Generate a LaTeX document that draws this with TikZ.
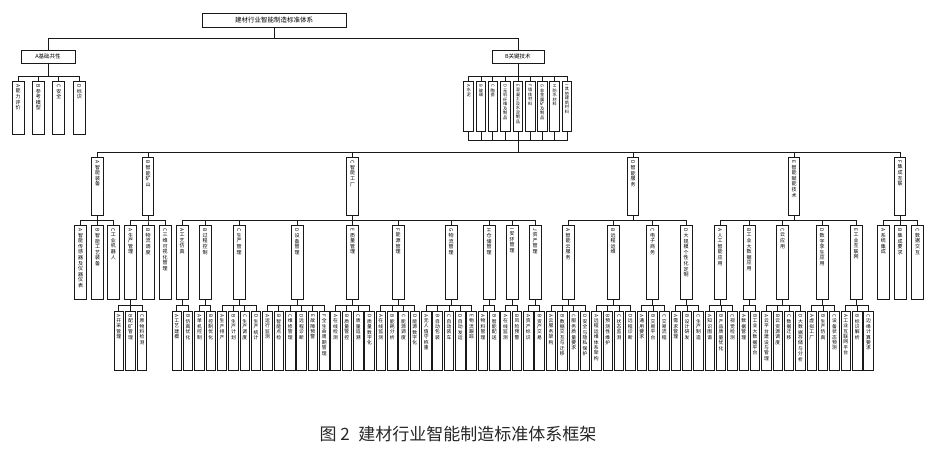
\documentclass[tikz,border=0pt]{standalone}
\usepackage{fontspec}
\setmainfont{Noto Sans CJK SC}
\usepackage{graphicx}
\XeTeXlinebreaklocale "zh"
\XeTeXlinebreakskip=0pt plus 1pt
% vertical label: rotated letter, then the characters one under the other
\newcommand{\vt}[2]{\rotatebox{-90}{#1}\par #2}

\begin{document}
\begin{tikzpicture}[x=1pt,y=-1pt,line width=0.8pt,draw=black!90,
  hbox/.style={draw,inner sep=0pt},
  vbox/.style={draw,anchor=north,inner sep=0pt,align=center,text height=3.5pt},
  bas/.style={vbox,minimum width=12,text width=6pt,text depth=50.1pt,font=\fontsize{5}{5.6}\selectfont},
  mat/.style={vbox,minimum width=9.7,text width=5pt,text depth=46.2pt,font=\fontsize{4.2}{4.5}\selectfont},
  lvb/.style={vbox,minimum width=11.6,text width=6pt,text depth=54.5pt,font=\fontsize{5}{5.6}\selectfont},
  lvc/.style={vbox,minimum width=12,text width=6pt,text depth=70.8pt,font=\fontsize{5}{5.6}\selectfont},
  leaf/.style={vbox,minimum width=9.5,text width=6pt,text depth=55.5pt,font=\fontsize{4.8}{5.4}\selectfont}]
\useasboundingbox (0,0) rectangle (936,453);

\node[hbox,minimum width=144,minimum height=14,font=\fontsize{6.5}{7}\selectfont] (root) at (274,20) {建材行业智能制造标准体系};
\node[hbox,minimum width=54,minimum height=13,font=\fontsize{5.5}{6}\selectfont] (jc) at (48,56.5) {A基础共性};
\node[hbox,minimum width=52,minimum height=13,font=\fontsize{5.5}{6}\selectfont] (gj) at (517.9,56.5) {B关键技术};

% A
\node[bas] (jca) at (18.2,80.7) {\vt{A}{能力评价}};
\node[bas] (jcb) at (38.3,80.7) {\vt{B}{参考模型}};
\node[bas] (jcc) at (58.8,80.7) {\vt{C}{安全}};
\node[bas] (jcd) at (79.3,80.7) {\vt{D}{标识}};

% B: materials
\node[mat] (cla) at (468.7,81) {\vt{A}{水泥}};
\node[mat] (clb) at (480.9,81) {\vt{B}{玻璃}};
\node[mat] (clc) at (492.8,81) {\vt{C}{陶瓷}};
\node[mat] (cld) at (505.2,81) {\vt{D}{无机纤维及制品}};
\node[mat] (cle) at (517.9,81) {\vt{E}{混凝土及水泥制品}};
\node[mat] (clf) at (530.2,81) {\vt{F}{墙体材料}};
\node[mat] (clg) at (542.2,81) {\vt{G}{非金属矿及制品}};
\node[mat] (clh) at (554.7,81) {\vt{H}{防水材料}};
\node[mat] (cli) at (567,81) {\vt{I}{其他建筑材料}};
\coordinate (hub) at (517.9,140);

% B: level 2
\node[lvb] (zb) at (97.5,157) {\vt{A}{智能装备}};
\node[lvb] (ks) at (148,157) {\vt{B}{智能矿山}};
\node[lvb] (gc) at (352.5,157) {\vt{C}{智能工厂}};
\node[lvb] (fw) at (633,157) {\vt{D}{智能服务}};
\node[lvb] (fn) at (794,157) {\vt{E}{智能赋能技术}};
\node[lvb] (jl) at (900,157) {\vt{F}{集成互联}};

% level 3
\node[lvc] (zba) at (80.5,225) {\vt{A}{智能传感器及仪器仪表}};
\node[lvc] (zbb) at (97.5,225) {\vt{B}{智能工艺装备}};
\node[lvc] (zbc) at (113.3,225) {\vt{C}{工业机器人}};
\node[lvc] (ksa) at (130.5,225) {\vt{A}{生产管理}};
\node[lvc] (ksb) at (148,225) {\vt{B}{物流调度}};
\node[lvc] (ksc) at (165,225) {\vt{C}{三维可视化管理}};
\node[lvc] (gca) at (182,225) {\vt{A}{工艺仿真}};
\node[lvc] (gcb) at (205,225) {\vt{B}{过程控制}};
\node[lvc] (gcc) at (239,225) {\vt{C}{生产管理}};
\node[lvc] (gcd) at (297,225) {\vt{D}{设备管理}};
\node[lvc] (gce) at (352.5,225) {\vt{E}{质量管理}};
\node[lvc] (gcf) at (398,225) {\vt{F}{能源管理}};
\node[lvc] (gcg) at (451,225) {\vt{G}{物流管理}};
\node[lvc] (gch) at (489,225) {\vt{H}{仓储管理}};
\node[lvc] (gci) at (512,225) {\vt{I}{安环管理}};
\node[lvc] (gcj) at (535,225) {\vt{J}{资产管理}};
\node[lvc] (fwa) at (568,225) {\vt{A}{智能云服务}};
\node[lvc] (fwb) at (613,225) {\vt{B}{远程运维}};
\node[lvc] (fwc) at (652.5,225) {\vt{C}{电子商务}};
\node[lvc] (fwd) at (686,225) {\vt{D}{大规模个性化定制}};
\node[lvc] (fna) at (720,225) {\vt{A}{人工智能应用}};
\node[lvc] (fnb) at (749,225) {\vt{B}{工业大数据应用}};
\node[lvc] (fnc) at (782.5,225) {\vt{C}{云应用}};
\node[lvc] (fnd) at (822,225) {\vt{D}{数字孪生应用}};
\node[lvc] (fne) at (856,225) {\vt{E}{工业互联网}};
\node[lvc] (jla) at (883.3,225) {\vt{A}{系统集成}};
\node[lvc] (jlb) at (900,225) {\vt{B}{集成要求}};
\node[lvc] (jlc) at (917.5,225) {\vt{C}{数据交互}};

% leaves
\node[leaf] (ksa1) at (118.75,311) {\vt{A}{开采管理}};
\node[leaf] (ksa2) at (130.45,311) {\vt{B}{配矿管理}};
\node[leaf] (ksa3) at (142.05,311) {\vt{C}{原物料检测}};
\node[leaf] (gca1) at (176.75,311) {\vt{A}{工艺建模}};
\node[leaf] (gca2) at (188.09,311) {\vt{B}{仿真优化}};
\node[leaf] (gcb1) at (199.43,311) {\vt{A}{单机控制}};
\node[leaf] (gcb2) at (210.77,311) {\vt{B}{控制优化}};
\node[leaf] (gcc1) at (222.11,311) {\vt{A}{生产排产}};
\node[leaf] (gcc2) at (233.45,311) {\vt{B}{生产计划}};
\node[leaf] (gcc3) at (244.79,311) {\vt{C}{生产调度}};
\node[leaf] (gcc4) at (256.13,311) {\vt{D}{生产统计}};
\node[leaf] (gcd1) at (267.47,311) {\vt{A}{运行监测}};
\node[leaf] (gcd2) at (278.81,311) {\vt{B}{智能点检}};
\node[leaf] (gcd3) at (290.15,311) {\vt{C}{维修管理}};
\node[leaf] (gcd4) at (301.49,311) {\vt{D}{远程诊断}};
\node[leaf] (gcd5) at (312.83,311) {\vt{E}{故障预警}};
\node[leaf] (gcd6) at (324.17,311) {\vt{F}{全生命周期管理}};
\node[leaf] (gce1) at (335.51,311) {\vt{A}{在线检测}};
\node[leaf] (gce2) at (346.85,311) {\vt{B}{质量管控}};
\node[leaf] (gce3) at (358.19,311) {\vt{C}{质量追溯}};
\node[leaf] (gce4) at (369.53,311) {\vt{D}{质量数字化}};
\node[leaf] (gcf1) at (380.87,311) {\vt{A}{在线监测}};
\node[leaf] (gcf2) at (392.21,311) {\vt{B}{能耗分析}};
\node[leaf] (gcf3) at (403.55,311) {\vt{C}{能源调度}};
\node[leaf] (gcf4) at (414.89,311) {\vt{D}{能源数字化}};
\node[leaf] (gcg1) at (426.23,311) {\vt{A}{无人值守称重}};
\node[leaf] (gcg2) at (437.57,311) {\vt{B}{自动包装}};
\node[leaf] (gcg3) at (448.91,311) {\vt{C}{自动装车}};
\node[leaf] (gcg4) at (460.25,311) {\vt{D}{自动发运}};
\node[leaf] (gcg5) at (471.59,311) {\vt{E}{物流跟踪}};
\node[leaf] (gch1) at (482.93,311) {\vt{A}{物料管理}};
\node[leaf] (gch2) at (494.27,311) {\vt{B}{智能配送}};
\node[leaf] (gci1) at (505.61,311) {\vt{A}{在线监测}};
\node[leaf] (gci2) at (516.95,311) {\vt{B}{风险预警}};
\node[leaf] (gcj1) at (528.29,311) {\vt{A}{资产标识}};
\node[leaf] (gcj2) at (539.63,311) {\vt{B}{资产交易}};
\node[leaf] (fwa1) at (550.97,311) {\vt{A}{云服务架构}};
\node[leaf] (fwa2) at (562.31,311) {\vt{B}{数据交互与迁移}};
\node[leaf] (fwa3) at (573.65,311) {\vt{C}{服务质量要求}};
\node[leaf] (fwa4) at (584.99,311) {\vt{D}{安全与隐私保护}};
\node[leaf] (fwb1) at (596.33,311) {\vt{A}{远程运维体系架构}};
\node[leaf] (fwb2) at (607.67,311) {\vt{B}{预测性维护}};
\node[leaf] (fwb3) at (619.01,311) {\vt{C}{状态监测}};
\node[leaf] (fwb4) at (630.35,311) {\vt{D}{远程诊断}};
\node[leaf] (fwc1) at (641.69,311) {\vt{A}{通用要求}};
\node[leaf] (fwc2) at (653.03,311) {\vt{B}{交易平台}};
\node[leaf] (fwc3) at (664.37,311) {\vt{C}{交易流程}};
\node[leaf] (fwd1) at (675.71,311) {\vt{A}{需求管理}};
\node[leaf] (fwd2) at (687.05,311) {\vt{B}{设计研发}};
\node[leaf] (fwd3) at (698.39,311) {\vt{C}{生产制造}};
\node[leaf] (fna1) at (709.73,311) {\vt{A}{知识图谱}};
\node[leaf] (fna2) at (721.07,311) {\vt{B}{产品质量优化}};
\node[leaf] (fna3) at (732.41,311) {\vt{C}{视觉检测}};
\node[leaf] (fnb1) at (743.75,311) {\vt{A}{数据管理}};
\node[leaf] (fnb2) at (755.09,311) {\vt{B}{工业大数据平台}};
\node[leaf] (fnc1) at (766.43,311) {\vt{A}{云平台建设与管理}};
\node[leaf] (fnc2) at (777.77,311) {\vt{B}{云资源调度}};
\node[leaf] (fnc3) at (789.11,311) {\vt{C}{数据迁移}};
\node[leaf] (fnc4) at (800.45,311) {\vt{D}{大数据存储与分析}};
\node[leaf] (fnd1) at (811.79,311) {\vt{A}{虚拟工厂}};
\node[leaf] (fnd2) at (823.13,311) {\vt{B}{生产仿真}};
\node[leaf] (fnd3) at (834.47,311) {\vt{C}{设备状态预测}};
\node[leaf] (fne1) at (845.81,311) {\vt{A}{工业互联网平台}};
\node[leaf] (fne2) at (857.15,311) {\vt{B}{标识解析}};
\node[leaf] (fne3) at (868.49,311) {\vt{C}{边缘计算要求}};

\node[font=\fontsize{17}{20}\selectfont,text=black!85] (cap) at (458,434) {图 2\enspace 建材行业智能制造标准体系框架};

% connectors
\foreach \c in {jc,gj} \draw (root.south) -- ++(0,10.7) -| (\c.north);
\foreach \c in {jca,jcb,jcc,jcd} \draw (jc.south) -- ++(0,13) -| (\c.north);
\foreach \c in {cla,clb,clc,cld,cle,clf,clg,clh,cli} {
  \draw (gj.south) -- ++(0,12.7) -| (\c.north);
  \draw (\c.south) |- (hub);
}
\foreach \c in {zb,ks,gc,fw,fn,jl} \draw (hub) -- ++(0,12.7) -| (\c.north);
\foreach \p/\cs in {zb/{zba,zbb,zbc}, ks/{ksa,ksb,ksc},
    gc/{gca,gcb,gcc,gcd,gce,gcf,gcg,gch,gci,gcj}, fw/{fwa,fwb,fwc,fwd},
    fn/{fna,fnb,fnc,fnd,fne}, jl/{jla,jlb,jlc}}
  \foreach \c in \cs \draw (\p.south) -- ++(0,5) -| (\c.north);
\foreach \p/\n in {ksa/3,gca/2,gcb/2,gcc/4,gcd/6,gce/4,gcf/4,gcg/5,gch/2,gci/2,gcj/2,
    fwa/4,fwb/4,fwc/3,fwd/3,fna/3,fnb/2,fnc/4,fnd/3,fne/3}
  \foreach \i in {1,...,\n} \draw (\p.south) -- ++(0,5.7) -| (\p\i.north);
\end{tikzpicture}
\end{document}
